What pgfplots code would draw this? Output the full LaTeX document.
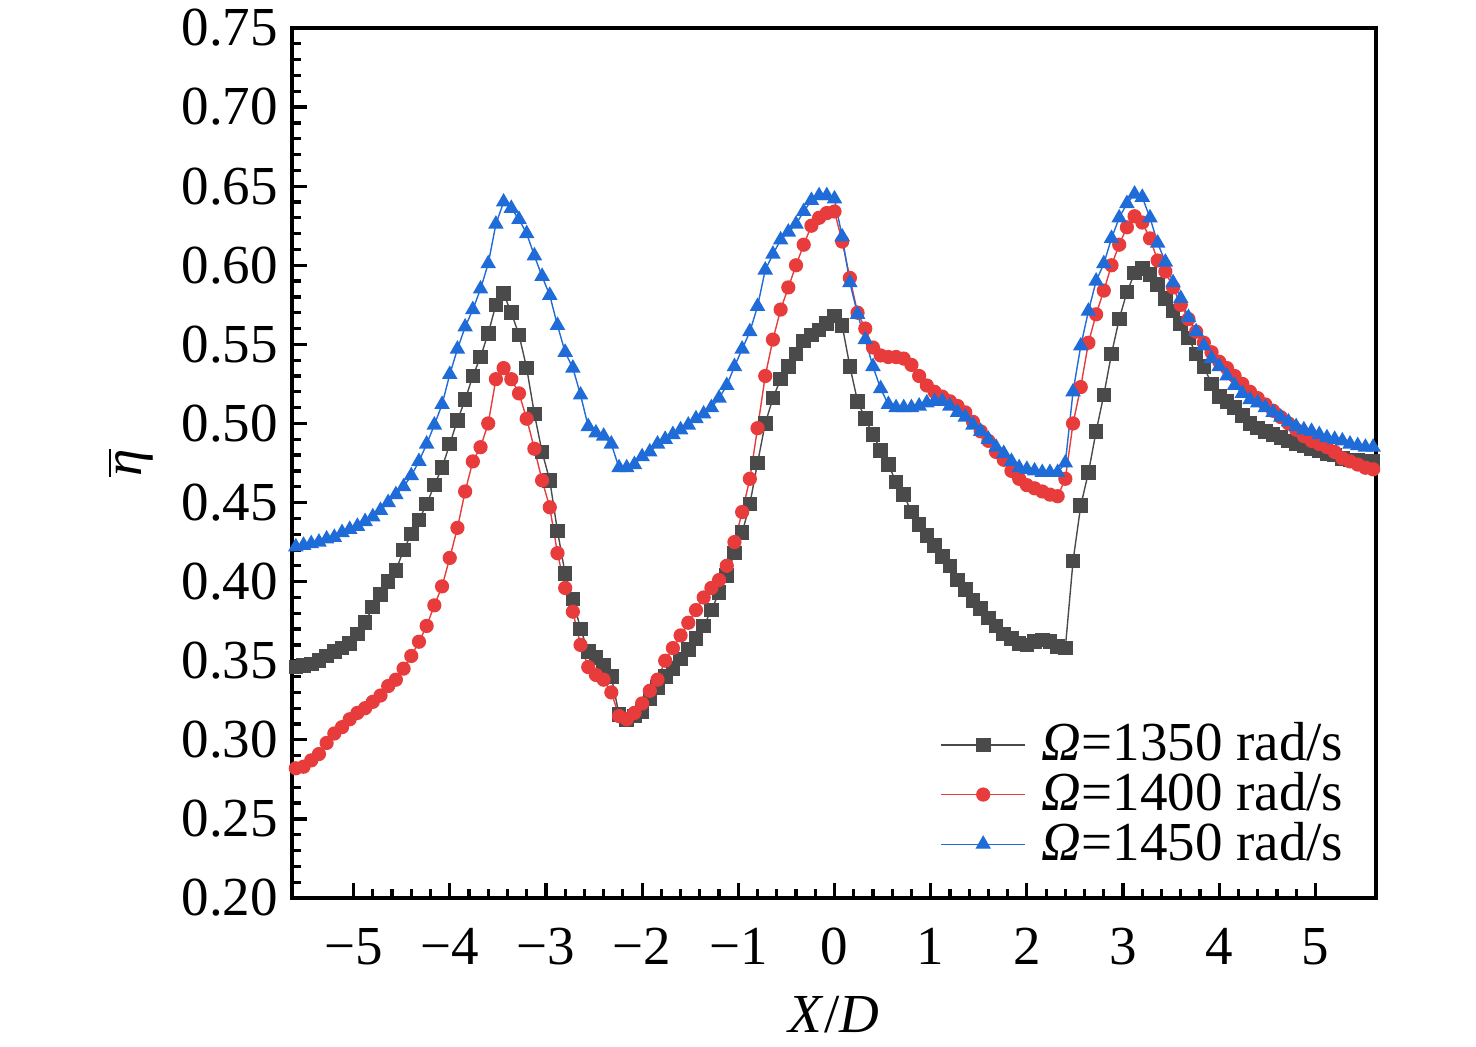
\documentclass[border=0pt]{standalone}
\usepackage{pgfplots}
\pgfplotsset{compat=1.18}
\usepackage{pgfplotstable}
\usepackage{fontspec}
\setmainfont{Liberation Serif}
\definecolor{cgray}{HTML}{4A4A4A}
\definecolor{cred}{HTML}{E83C3C}
\definecolor{cblue}{HTML}{1F6CD9}
\pgfplotstableread{
x g r b
-5.60 0.346 0.282 0.422
-5.52 0.347 0.283 0.423
-5.44 0.348 0.287 0.424
-5.36 0.350 0.291 0.425
-5.28 0.353 0.298 0.427
-5.20 0.356 0.304 0.428
-5.12 0.358 0.308 0.431
-5.04 0.361 0.313 0.433
-4.96 0.367 0.317 0.435
-4.88 0.374 0.320 0.438
-4.80 0.384 0.324 0.441
-4.72 0.392 0.328 0.445
-4.64 0.400 0.334 0.450
-4.56 0.407 0.338 0.455
-4.48 0.420 0.345 0.460
-4.40 0.430 0.353 0.467
-4.32 0.439 0.362 0.476
-4.24 0.449 0.372 0.487
-4.16 0.461 0.385 0.499
-4.08 0.472 0.397 0.512
-4.00 0.487 0.415 0.531
-3.92 0.502 0.434 0.547
-3.84 0.515 0.457 0.561
-3.76 0.530 0.476 0.572
-3.68 0.542 0.485 0.585
-3.60 0.557 0.500 0.601
-3.52 0.575 0.528 0.626
-3.44 0.582 0.535 0.640
-3.36 0.570 0.528 0.636
-3.28 0.556 0.519 0.629
-3.20 0.535 0.503 0.620
-3.12 0.506 0.484 0.606
-3.04 0.482 0.464 0.593
-2.96 0.464 0.447 0.581
-2.88 0.432 0.418 0.562
-2.80 0.405 0.396 0.545
-2.72 0.389 0.381 0.535
-2.64 0.370 0.360 0.518
-2.56 0.356 0.346 0.498
-2.48 0.352 0.341 0.494
-2.40 0.347 0.338 0.492
-2.32 0.340 0.330 0.487
-2.24 0.316 0.315 0.472
-2.16 0.313 0.313 0.472
-2.08 0.315 0.317 0.474
-2.00 0.318 0.323 0.479
-1.92 0.326 0.331 0.482
-1.84 0.333 0.338 0.487
-1.76 0.340 0.350 0.490
-1.68 0.345 0.358 0.493
-1.60 0.351 0.366 0.496
-1.52 0.357 0.374 0.499
-1.44 0.364 0.382 0.503
-1.36 0.372 0.390 0.506
-1.28 0.382 0.396 0.510
-1.20 0.393 0.401 0.516
-1.12 0.404 0.410 0.524
-1.04 0.418 0.425 0.536
-0.96 0.431 0.444 0.547
-0.88 0.449 0.465 0.558
-0.80 0.475 0.497 0.574
-0.72 0.500 0.530 0.597
-0.64 0.516 0.553 0.607
-0.56 0.528 0.572 0.616
-0.48 0.536 0.586 0.621
-0.40 0.544 0.600 0.626
-0.32 0.552 0.613 0.634
-0.24 0.556 0.625 0.641
-0.16 0.559 0.630 0.644
-0.08 0.563 0.633 0.644
0.00 0.568 0.634 0.642
0.08 0.562 0.615 0.618
0.16 0.536 0.592 0.589
0.24 0.514 0.570 0.569
0.32 0.503 0.560 0.553
0.40 0.493 0.548 0.536
0.48 0.483 0.543 0.522
0.56 0.474 0.542 0.512
0.64 0.463 0.542 0.510
0.72 0.455 0.541 0.510
0.80 0.444 0.537 0.510
0.88 0.436 0.530 0.511
0.96 0.429 0.524 0.513
1.04 0.423 0.520 0.514
1.12 0.416 0.517 0.514
1.20 0.410 0.514 0.511
1.28 0.401 0.511 0.507
1.36 0.395 0.507 0.504
1.44 0.388 0.501 0.499
1.52 0.383 0.495 0.495
1.60 0.377 0.489 0.490
1.68 0.372 0.482 0.485
1.76 0.367 0.477 0.481
1.84 0.364 0.470 0.476
1.92 0.361 0.465 0.472
2.00 0.360 0.461 0.471
2.08 0.362 0.459 0.470
2.16 0.363 0.457 0.469
2.24 0.362 0.455 0.469
2.32 0.359 0.454 0.469
2.40 0.358 0.465 0.475
2.48 0.413 0.500 0.520
2.56 0.448 0.523 0.549
2.64 0.469 0.551 0.571
2.72 0.495 0.569 0.590
2.80 0.518 0.584 0.601
2.88 0.544 0.600 0.617
2.96 0.566 0.613 0.630
3.04 0.583 0.624 0.639
3.12 0.595 0.631 0.645
3.20 0.598 0.627 0.643
3.28 0.594 0.617 0.630
3.36 0.588 0.603 0.614
3.44 0.579 0.596 0.602
3.52 0.571 0.586 0.589
3.60 0.563 0.575 0.579
3.68 0.554 0.566 0.567
3.76 0.544 0.558 0.558
3.84 0.536 0.551 0.549
3.92 0.525 0.545 0.541
4.00 0.517 0.539 0.536
4.08 0.514 0.535 0.530
4.16 0.510 0.530 0.524
4.24 0.505 0.525 0.519
4.32 0.500 0.520 0.515
4.40 0.497 0.516 0.513
4.48 0.495 0.512 0.510
4.56 0.493 0.508 0.507
4.64 0.491 0.504 0.504
4.72 0.489 0.500 0.501
4.80 0.487 0.496 0.498
4.88 0.486 0.492 0.496
4.96 0.484 0.489 0.495
5.04 0.483 0.487 0.493
5.12 0.481 0.485 0.491
5.20 0.480 0.482 0.490
5.28 0.478 0.478 0.489
5.36 0.477 0.476 0.487
5.44 0.477 0.474 0.486
5.52 0.476 0.472 0.485
5.60 0.476 0.471 0.485
}\data
\begin{document}
\begin{tikzpicture}
\begin{axis}[
  name=ax,
  scale only axis,
  width=271pt, height=217.5pt,
  xmin=-5.64, xmax=5.63, ymin=0.2, ymax=0.75,
  xtick={-5,-4,-3,-2,-1,0,1,2,3,4,5},
  xticklabels={−5,−4,−3,−2,−1,0,1,2,3,4,5},
  ytick={0.20,0.25,0.30,0.35,0.40,0.45,0.50,0.55,0.60,0.65,0.70,0.75},
  yticklabels={0.20,0.25,0.30,0.35,0.40,0.45,0.50,0.55,0.60,0.65,0.70,0.75},
  minor x tick num=4, minor y tick num=4,
  tick pos=left, tick align=inside,
  major tick length=3.75pt, minor tick length=2.25pt,
  axis line style={line width=0.8pt},
  every tick/.style={line width=0.8pt, black},
  tick label style={font=\fontsize{13.75}{16}\selectfont},
  xticklabel style={yshift=-4pt},
  xlabel={\textit{X}/\textit{D}},
  ylabel={$\overline{\textit{η}}$},
  label style={font=\fontsize{13.75}{16}\selectfont},
  xlabel style={at={(axis description cs:0.5,-0.1345)}, anchor=center},
  ylabel style={at={(axis description cs:-0.149,0.5)}, anchor=center},
  legend style={at={(rel axis cs:0.978,0.0263)}, anchor=south east, draw=none, fill=none,
    font=\fontsize{13.75}{14}\selectfont, inner sep=0pt, row sep=-2.625pt},
  legend cell align=left,
  legend image code/.code={\draw[mark repeat=2,mark phase=2,#1] plot coordinates {(0pt,0pt) (10.5pt,0pt) (21pt,0pt)}; \path (23pt,0pt);},
]
\addplot[cgray, line width=0.35pt, mark=square*, mark size=1.65pt, mark options={solid, fill=cgray, draw=cgray}] table[x=x,y=g]{\data};
\addlegendentry{\textit{Ω}=1350 rad/s}
\addplot[cred, line width=0.35pt, mark=*, mark size=1.6pt, mark options={solid, fill=cred, draw=cred}] table[x=x,y=r]{\data};
\addlegendentry{\textit{Ω}=1400 rad/s}
\addplot[cblue, line width=0.35pt, mark=triangle*, mark size=1.9pt, mark options={solid, fill=cblue, draw=cblue}] table[x=x,y=b]{\data};
\addlegendentry{\textit{Ω}=1450 rad/s}
\end{axis}
\pgfresetboundingbox
\path[use as bounding box] ([shift={(-73pt,-37.25pt)}]ax.south west) rectangle ([shift={(25pt,7pt)}]ax.north east);
\end{tikzpicture}
\end{document}
